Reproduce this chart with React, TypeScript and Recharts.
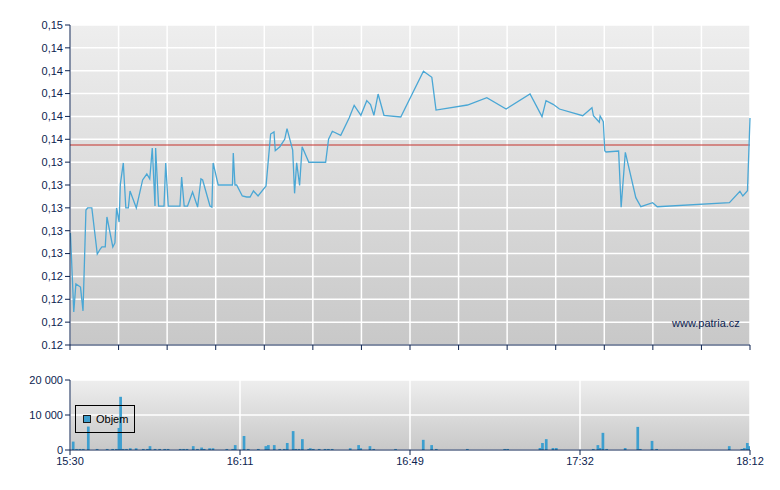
import { Bar, BarChart, CartesianGrid, Legend, Line, LineChart, ReferenceLine, XAxis, YAxis } from "recharts";

// minutes after 15:30 (session ends 18:12)
const SESSION_MIN = 162;

const PRICE_T = [
  0.1, 0.9, 1.4, 2.5, 3.1, 3.8, 4.2, 5.2, 6.5, 7.2, 7.6, 8.4, 8.8, 10.2, 10.7, 11.1, 11.7, 12.0, 12.7, 13.3,
  13.9, 14.3, 15.8, 17.3, 18.3, 19.0, 19.6, 20.25, 20.4, 21.1, 22.4, 22.8, 23.4, 26.2, 26.6, 27.2, 28.0, 29.2, 30.4, 31.2,
  31.6, 33.35, 33.8, 34.1, 35.3, 38.7, 38.9, 39.3, 39.7, 41.05, 42.1, 42.9, 43.7, 44.8, 46.7, 47.8, 48.6, 48.9, 50.0, 51.15,
  51.7, 53.05, 53.5, 54.0, 54.7, 55.3, 56.9, 60.9, 61.6, 62.5, 64.5, 66.5, 67.7, 69.3, 70.7, 71.6, 72.4, 73.4, 74.8, 78.8,
  84.2, 86.2, 87.2, 94.7, 99.3, 103.9, 109.6, 112.45, 113.4, 115.1, 116.6, 122.15, 124.35, 124.7, 126.1, 126.3, 127.05, 127.4, 127.7, 130.7,
  131.3, 132.3, 134.8, 136.0, 138.8, 139.9, 157.1, 159.6, 160.3, 161.4, 162.0,
];
const PRICE_V = [
  0.1278, 0.12089, 0.12334, 0.12307, 0.12098, 0.12981, 0.12999, 0.12999, 0.12596, 0.1264, 0.12658, 0.12658, 0.1292, 0.12658, 0.12693, 0.12999, 0.12876, 0.13209, 0.13393, 0.12999,
  0.12999, 0.13148, 0.12999, 0.13244, 0.13296, 0.13253, 0.13524, 0.13016, 0.13524, 0.13016, 0.13016, 0.13393, 0.13016, 0.13016, 0.1327, 0.13016, 0.13016, 0.13139, 0.13007, 0.13253,
  0.13244, 0.13016, 0.13007, 0.13393, 0.132, 0.132, 0.1348, 0.132, 0.132, 0.13104, 0.13095, 0.13095, 0.13148, 0.13104, 0.13191, 0.13646, 0.13664, 0.135, 0.13535, 0.136,
  0.13693, 0.13506, 0.13127, 0.13395, 0.13197, 0.13535, 0.13399, 0.13399, 0.136, 0.1367, 0.13635, 0.13786, 0.13897, 0.1381, 0.13938, 0.13903, 0.1381, 0.13996, 0.1381, 0.13795,
  0.14195, 0.14142, 0.13856, 0.139, 0.13964, 0.13865, 0.13996, 0.13798, 0.13938, 0.13906, 0.13865, 0.13806, 0.13876, 0.13806, 0.13749, 0.13804, 0.13754, 0.135, 0.13489, 0.13497,
  0.13005, 0.13486, 0.13089, 0.1301, 0.13045, 0.1301, 0.13045, 0.13145, 0.13104, 0.1315, 0.13786,
];
const PREV_CLOSE = 0.1355;

const VOL_T = [
  0.8, 1.6, 2.4, 3.2, 4.4, 6.5, 8.9, 10.2, 11.1, 11.7, 12.1, 12.7, 13.5, 14.4, 15.8, 17.5, 18.5, 19.1, 20.3, 21.4,
  22.6, 23.4, 26.3, 27.1, 27.9, 29.4, 30.4, 31.4, 32.0, 33.3, 34.1, 37.4, 38.8, 39.4, 41.5, 42.5, 44.9, 46.7, 47.3, 48.7,
  50.0, 51.1, 51.8, 53.2, 53.8, 54.6, 55.4, 56.9, 57.3, 58.0, 59.4, 60.8, 61.6, 62.5, 66.8, 68.8, 69.3, 71.5, 72.4, 77.6,
  84.2, 86.2, 87.3, 94.7, 103.6, 104.3, 112.0, 112.6, 113.5, 115.1, 115.9, 124.7, 125.8, 126.3, 127.0, 127.9, 132.3, 135.3, 135.9, 138.7,
  139.8, 157.1, 160.1, 160.7, 161.4, 161.8,
];
const VOL_V = [
  2400, 300, 300, 300, 6700, 300, 300, 300, 300, 6300, 15200, 300, 300, 500, 500, 300, 300, 1100, 300, 300,
  300, 300, 300, 300, 300, 1100, 300, 700, 300, 500, 500, 300, 300, 1400, 4000, 300, 300, 1100, 1400, 1400,
  300, 300, 2000, 5400, 300, 300, 3100, 300, 500, 300, 300, 300, 300, 300, 500, 1400, 500, 1100, 300, 300,
  2900, 1400, 300, 300, 300, 300, 570, 2000, 3100, 570, 570, 300, 1400, 570, 4900, 300, 570, 6600, 300, 2600,
  300, 1100, 300, 570, 2000, 1100,
];

const PRICE_TICKS = [0.118, 0.12, 0.122, 0.124, 0.126, 0.128, 0.13, 0.132, 0.134, 0.136, 0.138, 0.14, 0.142, 0.144, 0.146];
const PRICE_LABELS = ["0.12", "0,12", "0,12", "0,12", "0,13", "0,13", "0,13", "0,13", "0,13", "0,14", "0,14", "0,14", "0,14", "0,14", "0,15"];
const VOL_TICKS = [0, 10000, 20000];
const VOL_LABELS = ["0", "10 000", "20 000"];
const TIME_TICKS = [0, 40.5, 81, 121.5, 162];
const TIME_LABELS = ["15:30", "16:11", "16:49", "17:32", "18:12"];

const NAVY = "#0c2350";
const LINE = "#4aa7d5";
const BARS = "#3d9fcf";
const BAR_W = 2.7;
const tickStyle = { fill: NAVY, fontSize: 11 };

const priceData = PRICE_T.map((t, i) => ({ t, p: PRICE_V[i] }));
const volData = VOL_T.map((t, i) => ({ t, v: VOL_V[i] }));
const gridTicks = Array.from({ length: 15 }, (_, i) => (i * SESSION_MIN) / 14);

// recharts shrinks bars to the smallest gap between trades, so draw a fixed width around the centre
function VolumeBar(props: any) {
  const { x, y, width, height } = props;
  if (!height || height <= 0) return null;
  const cx = x + width / 2;
  return <rect x={cx - BAR_W / 2} y={y} width={BAR_W} height={height} fill={BARS} />;
}

function VolumeLegend() {
  return (
    <div
      style={{
        width: 58,
        height: 26,
        border: "1px solid #000",
        display: "flex",
        alignItems: "center",
        fontSize: 11,
        color: "#000",
      }}
    >
      <span
        style={{
          width: 6,
          height: 6,
          marginLeft: 7,
          marginRight: 5,
          background: BARS,
          border: "1px solid #1a1a1a",
        }}
      />
      Objem
    </div>
  );
}

export default function App() {
  return (
    <div
      style={{
        position: "absolute",
        left: 0,
        top: 0,
        width: 780,
        height: 490,
        background: "#fff",
        fontFamily: "'Liberation Sans', Arial, sans-serif",
      }}
    >
      <LineChart width={780} height={360} data={priceData} margin={{ top: 25, right: 30, left: 0, bottom: 0 }}>
        <defs>
          <linearGradient id="bgTop" x1="0" y1="0" x2="0" y2="1">
            <stop offset="0%" stopColor="#eeeeee" />
            <stop offset="100%" stopColor="#c8c8c8" />
          </linearGradient>
        </defs>
        <CartesianGrid fill="url(#bgTop)" stroke="#ffffff" strokeWidth={1.5} />
        <XAxis
          dataKey="t"
          type="number"
          domain={[0, SESSION_MIN]}
          ticks={gridTicks}
          tickFormatter={() => ""}
          height={15}
          stroke={NAVY}
          tickSize={5}
        />
        <YAxis
          type="number"
          domain={[PRICE_TICKS[0], PRICE_TICKS[PRICE_TICKS.length - 1]]}
          ticks={PRICE_TICKS}
          tickFormatter={(_v, i) => PRICE_LABELS[i]}
          width={70}
          stroke={NAVY}
          tick={tickStyle}
          tickSize={5}
          interval={0}
        />
        <ReferenceLine y={PREV_CLOSE} stroke="#c4302b" strokeWidth={1} />
        <Line
          type="linear"
          dataKey="p"
          stroke={LINE}
          strokeWidth={1.3}
          dot={false}
          isAnimationActive={false}
        />
      </LineChart>
      <div
        style={{
          position: "absolute",
          left: 672,
          top: 317,
          fontSize: 11,
          color: NAVY,
        }}
      >
        www.patria.cz
      </div>
      <div style={{ position: "absolute", left: 0, top: 370 }}>
        <BarChart width={780} height={120} data={volData} margin={{ top: 10, right: 30, left: 0, bottom: 0 }}>
          <defs>
            <linearGradient id="bgBottom" x1="0" y1="0" x2="0" y2="1">
              <stop offset="0%" stopColor="#eeeeee" />
              <stop offset="100%" stopColor="#c8c8c8" />
            </linearGradient>
          </defs>
          <CartesianGrid fill="url(#bgBottom)" stroke="#ffffff" strokeWidth={1.5} />
          <XAxis
            dataKey="t"
            type="number"
            domain={[0, SESSION_MIN]}
            ticks={TIME_TICKS}
            tickFormatter={(_v, i) => TIME_LABELS[i]}
            height={40}
            stroke={NAVY}
            tick={tickStyle}
            tickSize={5}
            interval={0}
            allowDataOverflow
          />
          <YAxis
            type="number"
            domain={[0, 20000]}
            ticks={VOL_TICKS}
            tickFormatter={(_v, i) => VOL_LABELS[i]}
            width={70}
            stroke={NAVY}
            tick={tickStyle}
            tickSize={5}
            interval={0}
          />
          <Legend
            layout="vertical"
            align="center"
            verticalAlign="middle"
            content={() => <VolumeLegend />}
            wrapperStyle={{ left: 75, top: 35, width: 60, height: 28 }}
          />
          <Bar dataKey="v" fill={BARS} shape={VolumeBar} isAnimationActive={false} />
        </BarChart>
      </div>
    </div>
  );
}
